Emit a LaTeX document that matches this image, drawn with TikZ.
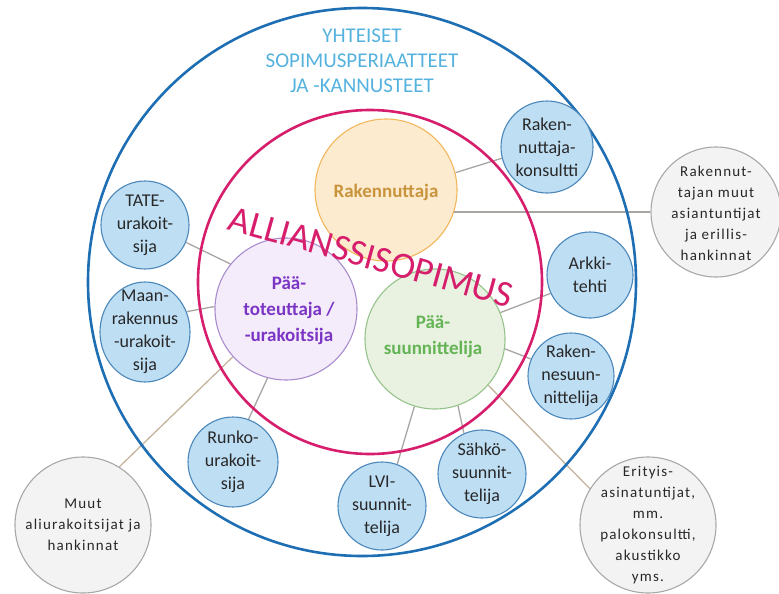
\documentclass[tikz,border=0pt]{standalone}
\usepackage{fontspec}
\setmainfont{Carlito}
\newfontfamily\spacedfont[LetterSpace=8]{Carlito}
\usetikzlibrary{backgrounds,shapes.geometric}
\definecolor{outerblue}{RGB}{30,110,180}
\definecolor{pinkc}{RGB}{214,30,108}
\definecolor{titleblue}{RGB}{85,178,222}
\definecolor{orfill}{RGB}{253,235,208}
\definecolor{ordraw}{RGB}{242,183,90}
\definecolor{ortext}{RGB}{200,148,60}
\definecolor{pufill}{RGB}{245,236,251}
\definecolor{pudraw}{RGB}{168,140,205}
\definecolor{putext}{RGB}{123,53,196}
\definecolor{grfill}{RGB}{233,241,225}
\definecolor{grdraw}{RGB}{150,195,140}
\definecolor{grtext}{RGB}{100,180,85}
\definecolor{blfill}{RGB}{190,222,244}
\definecolor{bldraw}{RGB}{75,135,185}
\definecolor{gyfill}{RGB}{243,243,243}
\definecolor{gydraw}{RGB}{168,168,168}
\definecolor{txtdark}{RGB}{40,40,40}
\definecolor{conngrey}{RGB}{168,165,162}
\definecolor{conntan}{RGB}{195,180,155}
\begin{document}
\begin{tikzpicture}[x=1pt,y=-1pt,
  ring/.style={circle, draw, inner sep=0pt},
  smallc/.style={circle, draw=bldraw, fill=blfill, line width=1.1pt, inner sep=0pt},
  btext/.style={align=center, text=txtdark, font=\fontsize{18}{23}\selectfont, inner sep=0pt},
  greyc/.style={circle, draw=gydraw, fill=gyfill, line width=1.1pt, inner sep=0pt},
  gtext/.style={align=center, text=txtdark, font=\spacedfont\fontsize{15}{21}\selectfont, inner sep=0pt},
  mainc/.style={circle, line width=1.1pt, inner sep=0pt},
  mtext/.style={align=center, font=\bfseries\fontsize{19}{26}\selectfont, inner sep=0pt},
  conn/.style={draw=conngrey, line width=1.3pt},
  conntwo/.style={draw=conntan, line width=1.3pt}]
\useasboundingbox (0,0) rectangle (779,594);
% rings
\node[ring, draw=outerblue, line width=2.6pt, minimum size=548pt] (outer) at (362,282) {};
\node[ring, draw=pinkc, line width=2.6pt, minimum size=344pt] (inner) at (370,282) {};
\node[align=center, text=titleblue, font=\fontsize{21}{25}\selectfont] (title) at (362,61) {YHTEISET\\SOPIMUSPERIAATTEET\\JA -KANNUSTEET};
% main circles
\node[mainc, draw=ordraw, fill=orfill, minimum size=142pt] (rak) at (386,190) {};
\node[mtext, text=ortext] (rakt) at (386,192) {Rakennuttaja};
\node[mainc, draw=pudraw, fill=pufill, minimum size=142pt] (pt) at (286,309) {};
\node[mtext, text=putext] (ptt) at (289,311) {Pää-\\toteuttaja /\\-urakoitsija};
\node[mainc, draw=grdraw, fill=grfill, minimum size=140pt] (ps) at (435,339) {};
\node[mtext, text=grtext] (pst) at (433,337) {Pää-\\suunnittelija};
% small blue circles
\node[smallc, minimum size=92pt] (konsult) at (547,147) {};
\node[btext] (konsultt) at (547,147) {Raken-\\nuttaja-\\konsultti};
\node[smallc, minimum size=86pt] (arkki) at (590,275) {};
\node[btext] (arkkit) at (590,275) {Arkki-\\tehti};
\node[smallc, minimum size=86pt] (rakenne) at (571,376) {};
\node[btext] (rakennet) at (571,376) {Raken-\\nesuun-\\nittelija};
\node[smallc, minimum size=88pt] (sahko) at (482,474) {};
\node[btext] (sahkot) at (482,474) {Sähkö-\\suunnit-\\telija};
\node[smallc, minimum size=88pt] (lvi) at (382,506) {};
\node[btext] (lvit) at (382,506) {LVI-\\suunnit-\\telija};
\node[smallc, minimum size=90pt] (runko) at (233,462) {};
\node[btext] (runkot) at (233,462) {Runko-\\urakoit-\\sija};
\node[smallc, minimum size=88pt] (tate) at (145,225) {};
\node[btext] (tatet) at (145,225) {TATE-\\urakoit-\\sija};
\node[smallc, ellipse, minimum width=90pt, minimum height=100pt] (maan) at (145,332) {};
\node[btext] (maant) at (145,332) {Maan-\\rakennus\\-urakoit-\\sija};
% grey circles
\node[greyc, minimum size=130pt] (muutr) at (716,212) {};
\node[gtext] (muutrt) at (716,213) {Rakennut-\\tajan muut\\asiantuntijat\\ja erillis-\\hankinnat};
\node[greyc, minimum size=136pt] (muuta) at (83,525) {};
\node[gtext] (muutat) at (83,525) {Muut\\aliurakoitsijat ja\\hankinnat};
\node[greyc, minimum size=136pt] (erit) at (648,525) {};
\node[gtext] (eritt) at (648,525) {Erityis-\\asinatuntijat,\\mm.\\palokonsultti,\\akustikko\\yms.};
% alliance text
\node[text=pinkc, font=\fontsize{37}{37}\selectfont, rotate=-15.5, inner sep=0pt] (allianssi) at (371,257) {ALLIANSSISOPIMUS};
% connectors
\begin{scope}[on background layer]
  \draw[conn] (rak.14) -- (konsult.194);
  \draw[conn] (muutr.west) -- (muutr.west -| rak.center);
  \draw[conn] (pt.141.6) -- (tate.-23.8);
  \draw[conn] (pt.178) -- (maan.26);
  \draw[conn] (pt.255) -- (runko.70);
  \draw[conntwo] (pt.222) -- (muuta.58);
  \draw[conn] (ps.22) -- (arkki.205);
  \draw[conn] (ps.-8) -- (rakenne.157);
  \draw[conn] (ps.-71.6) -- (sahko.114);
  \draw[conn] (ps.253.4) -- (lvi.70.8);
  \draw[conntwo] (ps.-41.6) -- (erit.148);
\end{scope}
\end{tikzpicture}
\end{document}
